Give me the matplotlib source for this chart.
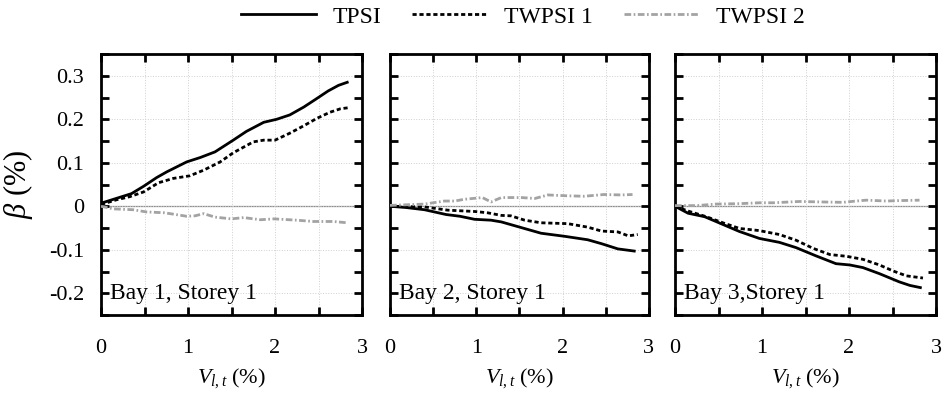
import numpy as np
import matplotlib
matplotlib.use("Agg")
import matplotlib.pyplot as plt
from matplotlib.ticker import MultipleLocator, FuncFormatter

plt.rcParams['font.family'] = ['Liberation Serif', 'DejaVu Serif']
plt.rcParams['mathtext.fontset'] = 'custom'
plt.rcParams['mathtext.rm'] = 'Liberation Serif'
plt.rcParams['mathtext.it'] = 'Liberation Serif:italic'

# Bay 1, Storey 1
x1_tpsi = [0.0, 0.35, 0.49, 0.64, 0.755, 0.985, 1.14, 1.31, 1.52, 1.67, 1.87, 2.02, 2.17, 2.33, 2.46, 2.61, 2.73, 2.83]
y1_tpsi = [0.007, 0.029, 0.046, 0.066, 0.079, 0.102, 0.112, 0.125, 0.152, 0.172, 0.193, 0.2, 0.21, 0.228, 0.245, 0.265, 0.278, 0.285]
x1_tw1 = [0.0, 0.18, 0.33, 0.49, 0.66, 0.83, 1.02, 1.18, 1.37, 1.52, 1.75, 1.87, 2.0, 2.17, 2.33, 2.48, 2.63, 2.75, 2.86]
y1_tw1 = [0.004, 0.015, 0.022, 0.033, 0.054, 0.064, 0.07, 0.083, 0.102, 0.123, 0.148, 0.152, 0.152, 0.168, 0.185, 0.202, 0.216, 0.224, 0.227]
x1_tw2 = [0.0, 0.14, 0.37, 0.52, 0.73, 0.985, 1.08, 1.18, 1.31, 1.5, 1.64, 1.83, 1.99, 2.25, 2.44, 2.67, 2.83]
y1_tw2 = [0.0, -0.006, -0.008, -0.013, -0.015, -0.023, -0.022, -0.017, -0.025, -0.029, -0.026, -0.031, -0.029, -0.032, -0.035, -0.035, -0.038]

# Bay 2, Storey 1
x2_tpsi = [0.0, 0.19, 0.4, 0.65, 0.81, 0.98, 1.17, 1.29, 1.52, 1.75, 2.02, 2.29, 2.45, 2.64, 2.83]
y2_tpsi = [0.0, -0.003, -0.008, -0.019, -0.023, -0.03, -0.032, -0.036, -0.049, -0.062, -0.069, -0.077, -0.086, -0.098, -0.103]
x2_tw1 = [0.0, 0.4, 0.67, 0.98, 1.13, 1.29, 1.4, 1.56, 1.75, 2.06, 2.29, 2.45, 2.64, 2.76, 2.87]
y2_tw1 = [0.0, -0.0015, -0.009, -0.012, -0.015, -0.021, -0.022, -0.032, -0.038, -0.04, -0.048, -0.057, -0.059, -0.068, -0.065]
x2_tw2 = [0.0, 0.4, 0.63, 0.75, 0.86, 1.07, 1.17, 1.29, 1.52, 1.68, 1.83, 2.06, 2.25, 2.48, 2.68, 2.81]
y2_tw2 = [0.002, 0.005, 0.012, 0.012, 0.016, 0.02, 0.01, 0.02, 0.02, 0.018, 0.026, 0.024, 0.023, 0.027, 0.026, 0.027]

# Bay 3, Storey 1
x3_tpsi = [0.0, 0.15, 0.34, 0.47, 0.74, 0.97, 1.2, 1.39, 1.62, 1.85, 2.01, 2.16, 2.35, 2.58, 2.7, 2.82]
y3_tpsi = [0.0, -0.016, -0.024, -0.035, -0.058, -0.074, -0.083, -0.095, -0.114, -0.132, -0.135, -0.141, -0.155, -0.174, -0.182, -0.187]
x3_tw1 = [0.0, 0.15, 0.36, 0.55, 0.74, 0.97, 1.2, 1.39, 1.59, 1.78, 1.97, 2.16, 2.35, 2.51, 2.66, 2.85]
y3_tw1 = [0.0, -0.011, -0.024, -0.038, -0.051, -0.056, -0.065, -0.078, -0.097, -0.111, -0.115, -0.122, -0.135, -0.149, -0.16, -0.165]
x3_tw2 = [0.0, 0.25, 0.47, 0.74, 0.97, 1.13, 1.43, 1.66, 1.93, 2.08, 2.2, 2.43, 2.58, 2.81]
y3_tw2 = [0.0015, 0.0015, 0.005, 0.006, 0.008, 0.008, 0.011, 0.01, 0.009, 0.012, 0.014, 0.012, 0.013, 0.014]

panel_labels = ["Bay 1, Storey 1", "Bay 2, Storey 1", "Bay 3,Storey 1"]
series_names = ["TPSI", "TWPSI 1", "TWPSI 2"]

panels = [
    [(x1_tpsi, y1_tpsi), (x1_tw1, y1_tw1), (x1_tw2, y1_tw2)],
    [(x2_tpsi, y2_tpsi), (x2_tw1, y2_tw1), (x2_tw2, y2_tw2)],
    [(x3_tpsi, y3_tpsi), (x3_tw1, y3_tw1), (x3_tw2, y3_tw2)],
]

styles = [
    dict(color="black", lw=2.0, ls="-"),
    dict(color="black", lw=2.0, ls=(0, (1.5, 1.0))),
    dict(color="#a3a3a3", lw=2.0, ls=(0, (2.4, 0.9, 0.6, 0.9))),
]

fig = plt.figure(figsize=(9.45, 3.94), dpi=100)
lefts = [0.1069, 0.4127, 0.7143]
widths = [0.2762, 0.274, 0.2762]

def fmt(v, pos):
    if abs(v) < 1e-9:
        return "0"
    return "%.1f" % v

lines = []
for i, (data, label) in enumerate(zip(panels, panel_labels)):
    ax = fig.add_axes([lefts[i], 0.2005, widths[i], 0.6624])
    ax.axhline(0, color="#8c8c8c", lw=0.9, zorder=1)
    for (xs, ys), st in zip(data, styles):
        l, = ax.plot(xs, ys, zorder=3, **st)
        if i == 0:
            lines.append(l)
    ax.set_xlim(0, 3)
    ax.set_ylim(-0.25, 0.35)
    ax.xaxis.set_major_locator(MultipleLocator(1))
    ax.xaxis.set_minor_locator(MultipleLocator(0.5))
    ax.yaxis.set_major_locator(MultipleLocator(0.1))
    ax.yaxis.set_minor_locator(MultipleLocator(0.05))
    ax.xaxis.set_major_formatter(FuncFormatter(lambda v, p: "%d" % round(v)))
    ax.yaxis.set_major_formatter(FuncFormatter(fmt))
    ax.tick_params(which="both", direction="in", top=True, right=True,
                   length=6, width=2, labelsize=16, pad=17)
    ax.tick_params(axis="y", pad=12)
    if i > 0:
        ax.tick_params(axis="y", labelleft=False)
    ax.grid(True, which="major", axis="y", color="#d0d0d0", ls=":", lw=0.7)
    ax.grid(True, which="both", axis="x", color="#d0d0d0", ls=":", lw=0.7)
    for sp in ax.spines.values():
        sp.set_linewidth(2)
    ax.text(0.1, -0.2, label, fontsize=17, va="center", ha="left")
    ax.set_xlabel(r"$V_{l,t}$ (%)", fontsize=16, labelpad=6)
    if i == 0:
        ax.set_ylabel(r"$\beta$ (%)", fontsize=22, labelpad=10)

fig.legend(lines, series_names, loc="center", bbox_to_anchor=(0.553, 0.957),
           ncol=3, frameon=False, fontsize=17, handlelength=3.2,
           columnspacing=1.3, handletextpad=0.7)

fig.savefig("out.png", dpi=100)
